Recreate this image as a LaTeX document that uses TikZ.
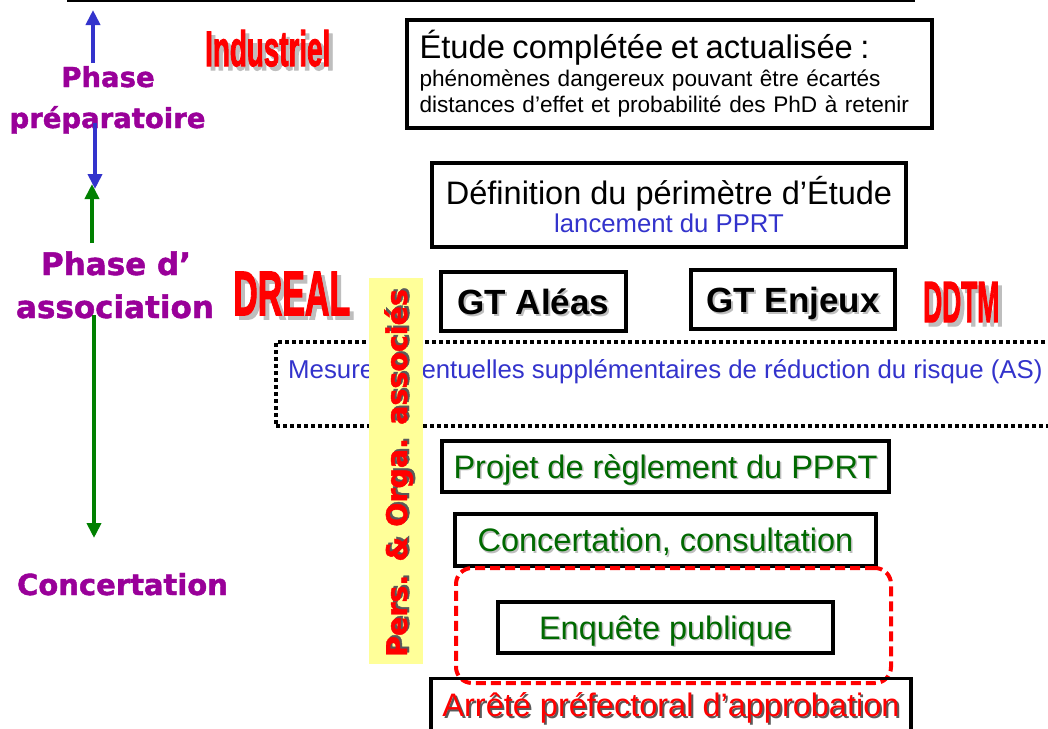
\documentclass[tikz,border=0pt]{standalone}
\usepackage{fontspec}
\usepackage{graphicx}
\setmainfont{Liberation Sans}
\newfontfamily\dejavu{DejaVu Sans}[BoldFeatures={FakeBold=1.5}]
\newfontfamily\condfont{Liberation Sans}[BoldFeatures={FakeBold=2.5}]
\usetikzlibrary{arrows.meta}
\definecolor{pprtblue}{RGB}{51,51,204}
\definecolor{pprtpurple}{RGB}{153,0,153}
\definecolor{pprtgreen}{RGB}{0,128,0}
\definecolor{pprtdkgreen}{RGB}{0,105,0}
\definecolor{pprtred}{RGB}{255,0,0}
\definecolor{pprtyellow}{RGB}{255,255,153}
\definecolor{pprtshadow}{RGB}{190,190,190}
\definecolor{pprtdkshadow}{RGB}{90,90,90}
\newcommand\shadowtext[3]{\makebox[0pt][l]{\hspace*{#1}\raisebox{-#1}{\textcolor{#2}{#3}}}#3}
\newcommand\impact[3]{\resizebox{#1}{#2}{\condfont\bfseries\fontsize{40}{44}\selectfont #3}}
\begin{document}
\begin{tikzpicture}[x=1pt,y=-1pt,
  box/.style={draw=black, line width=3.5pt, rectangle, inner sep=0pt},
  bigtext/.style={font=\fontsize{32.5}{36}\selectfont, text height=30pt, text depth=7pt},
  gttext/.style={font=\bfseries\fontsize{35}{40}\selectfont, text height=25pt, text depth=0pt},
  phasetext/.style={text=pprtpurple, inner sep=0pt, anchor=base},
  redlabel/.style={text=pprtred, inner sep=0pt, anchor=base west},
  bluearrow/.style={draw=pprtblue, line width=4.5pt, -{Triangle[length=15pt,width=14pt]}},
  greenarrow/.style={draw=pprtgreen, line width=4.5pt, -{Triangle[length=15pt,width=14pt]}},
  dottedbox/.style={draw=black, line width=3.5pt, dash pattern=on 4pt off 3pt},
  reddashed/.style={draw=pprtred, line width=4pt, dash pattern=on 10pt off 5pt, rounded corners=16pt},
]
\useasboundingbox (0,0) rectangle (1048,728);
\fill[white] (0,0) rectangle (1048,728);

% top rule
\coordinate (ruleL) at (67,1);
\coordinate (ruleR) at (915,1);
\draw[line width=1.5pt] (ruleL) -- (ruleR);

% phase labels
\node[phasetext, font=\dejavu\bfseries\fontsize{27.5}{30}\selectfont] (prep1) at (108,87) {Phase};
\node[phasetext, font=\dejavu\bfseries\fontsize{27.5}{30}\selectfont] (prep2) at (107.5,128) {préparatoire};
\node[phasetext, font=\dejavu\bfseries\fontsize{31}{34}\selectfont] (asso1) at (116,275) {Phase d’};
\node[phasetext, font=\dejavu\bfseries\fontsize{31}{34}\selectfont] (asso2) at (115,318) {association};
\node[phasetext, font=\dejavu\bfseries\fontsize{29}{32}\selectfont] (conc) at (122.5,595) {Concertation};

% phase arrows
\coordinate (gu1) at (92,243); \coordinate (gu2) at (92,184);
\coordinate (gd1) at (94,315); \coordinate (gd2) at (94,538);
\coordinate (bu1) at (93,63);  \coordinate (bu2) at (93,10);
\coordinate (bd1) at (95,123); \coordinate (bd2) at (95,189);
\draw[greenarrow] (gu1) -- (gu2);
\draw[greenarrow] (gd1) -- (gd2);
\draw[bluearrow] (bu1) -- (bu2);
\draw[bluearrow] (bd1) -- (bd2);

% actor labels
\node[redlabel] (industriel) at (205,66) {\shadowtext{4pt}{pprtshadow}{\impact{125pt}{36pt}{Industriel}}};
\node[redlabel] (dreal) at (233,315) {\shadowtext{4pt}{pprtshadow}{\impact{117pt}{43pt}{DREAL}}};
\node[redlabel] (ddtm) at (923,322) {\shadowtext{4pt}{pprtshadow}{\impact{76pt}{40pt}{DDTM}}};

% study box
\node[box, minimum width=525pt, minimum height=108pt, text width=500pt, inner xsep=12.5pt,
      align=left, font=\fontsize{22.6}{26}\selectfont] (etude) at (669.5,74)
  {{\fontsize{32.7}{36}\selectfont Étude complétée et actualisée :}\\[2pt]
   phénomènes dangereux pouvant être écartés\\
   distances d’effet et probabilité des PhD à retenir};

% perimeter box
\node[box, minimum width=474pt, minimum height=84pt, align=center,
      font=\fontsize{32.5}{36}\selectfont] (perimetre) at (669,205)
  {Définition du périmètre d’Étude\\[-8pt]
   {\color{pprtblue}\fontsize{25.7}{28}\selectfont lancement du PPRT}};

% GT boxes
\node[box, gttext, minimum width=185pt, minimum height=59pt] (gtaleas) at (533.5,301.5)
  {\shadowtext{2pt}{pprtshadow}{GT Aléas}};
\node[box, gttext, minimum width=204pt, minimum height=59pt] (gtenjeux) at (793,299.5)
  {\shadowtext{2pt}{pprtshadow}{GT Enjeux}};

% dotted box with measures
\node[dottedbox, minimum width=780pt, minimum height=84pt, inner sep=0pt] (mesbox) at (666,384) {};
\node[text=pprtblue, anchor=base west, inner sep=0pt, font=\fontsize{25.8}{30}\selectfont] (mesures) at (288,378)
  {Mesures éventuelles supplémentaires de réduction du risque (AS)};

% yellow band with associated persons
\node[fill=pprtyellow, minimum width=54pt, minimum height=386pt, inner sep=0pt] (band) at (396,471) {};
\node[rotate=90, text=pprtred, inner sep=0pt, anchor=base,
      font=\dejavu\bfseries\fontsize{28.5}{32}\selectfont] (pers) at (407,473)
  {\shadowtext{2pt}{pprtdkshadow}{Pers. \& Orga. associés}};

% concertation steps
\node[box, bigtext, text=pprtdkgreen, minimum width=447pt, minimum height=51pt] (projet) at (665.5,466.5)
  {\shadowtext{1.5pt}{pprtshadow}{Projet de règlement du PPRT}};
\node[box, bigtext, text=pprtdkgreen, minimum width=421pt, minimum height=52pt] (concert) at (665.5,540)
  {\shadowtext{1.5pt}{pprtshadow}{Concertation, consultation}};
\node[reddashed, minimum width=435pt, minimum height=115pt, inner sep=0pt] (enqzone) at (673.5,625.5) {};
\node[box, bigtext, text=pprtdkgreen, minimum width=335pt, minimum height=51pt] (enquete) at (665.5,627.5)
  {\shadowtext{1.5pt}{pprtshadow}{Enquête publique}};
\node[box, bigtext, text=pprtred, minimum width=480pt, minimum height=52pt] (arrete) at (671,704.5)
  {\shadowtext{2pt}{pprtdkshadow}{Arrêté préfectoral d’approbation}};
\end{tikzpicture}
\end{document}
